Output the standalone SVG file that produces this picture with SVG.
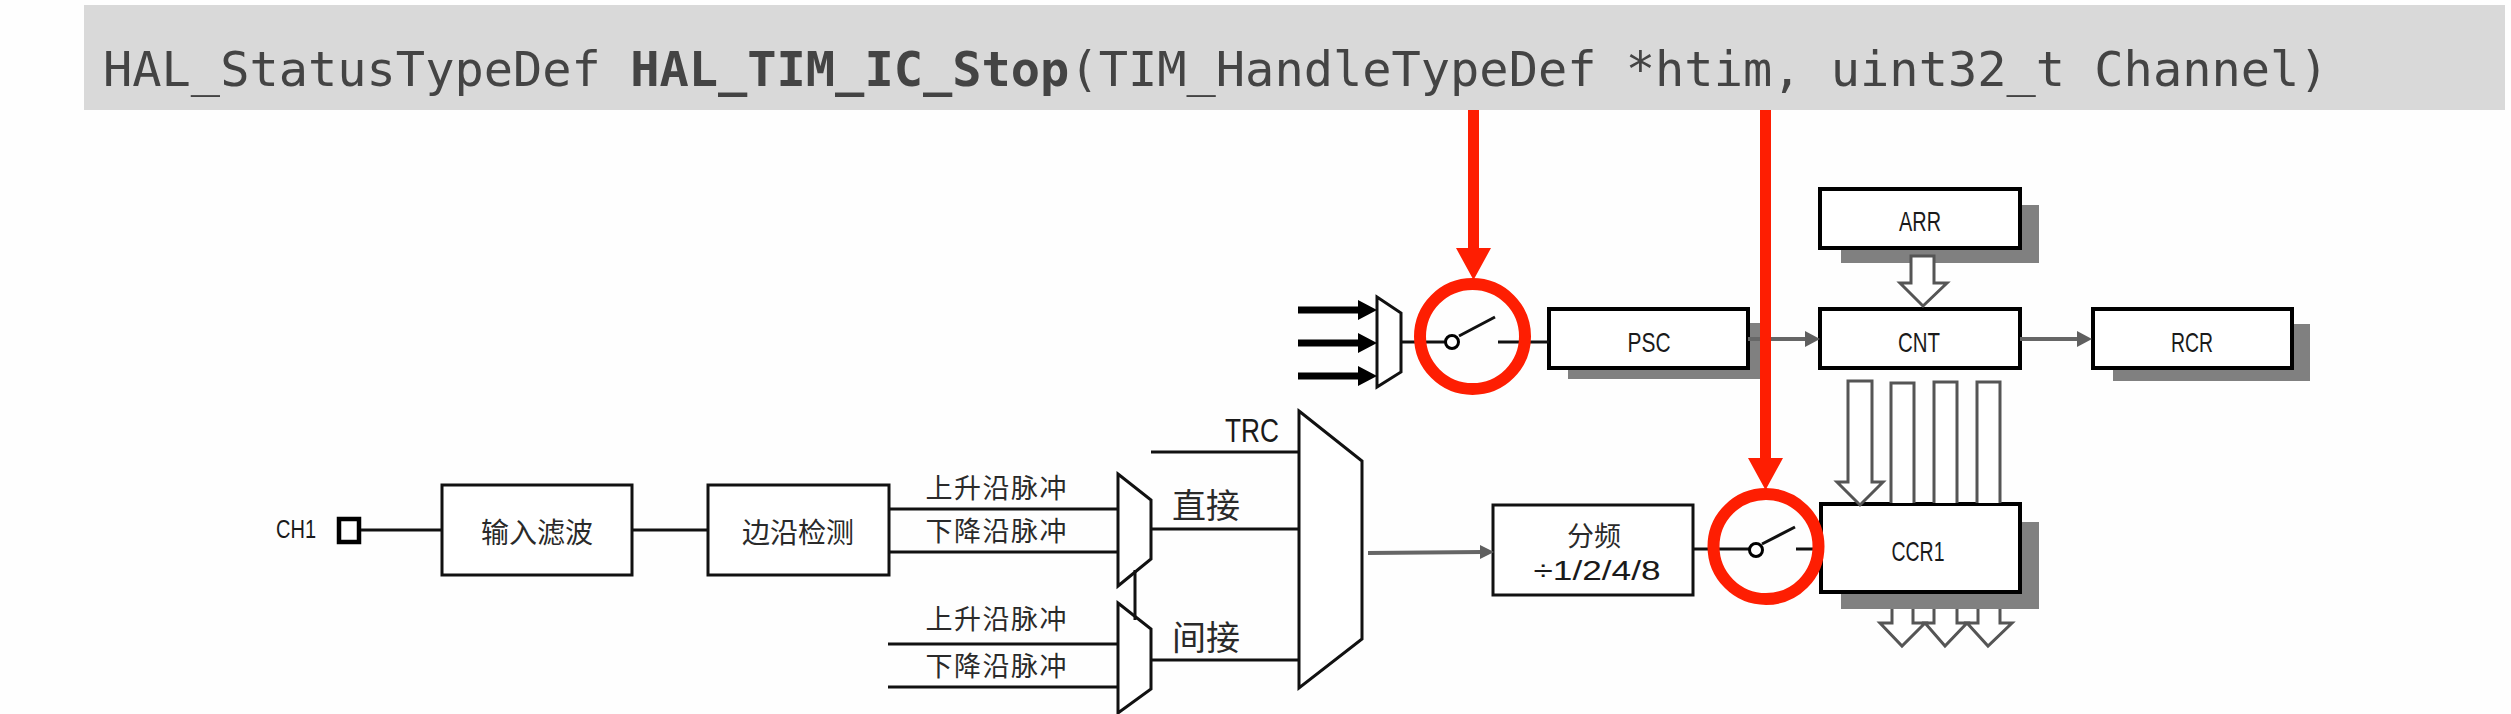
<svg xmlns="http://www.w3.org/2000/svg" width="2511" height="714" viewBox="0 0 2511 714">
<style>
.box{fill:#fff;stroke:#000;stroke-width:4}
.thin{fill:#fff;stroke:#111;stroke-width:3}
.shadow{fill:#808080}
.line{stroke:#111;stroke-width:3;fill:none}
.gline{stroke:#666;stroke-width:4;fill:none}
.ghead{fill:#5f5f5f}
.hollow{fill:#fff;stroke:#555;stroke-width:3}
.red{fill:#fe1e02}
.ring{fill:none;stroke:#fe1e02;stroke-width:12}
.lat{font-family:"Liberation Sans",Arial,sans-serif;font-size:28px;fill:#1a1a1a;text-anchor:middle}
.cjk{font-family:"Noto Sans CJK SC","Noto Sans CJK JP",sans-serif;fill:#2a2a2a;text-anchor:middle;font-size:28px}
.code{font-family:"DejaVu Sans Mono","Liberation Mono",monospace;font-size:48.65px;fill:#444}
</style>
<rect width="2511" height="714" fill="#fefefe"/>
<g id="header">
<rect x="84" y="5" width="2421" height="105" fill="#d9d9d9"/>
<text class="code" x="103" y="86">HAL_StatusTypeDef <tspan font-weight="bold">HAL_TIM_IC_Stop</tspan>(TIM_HandleTypeDef *htim, uint32_t Channel)</text>
</g>
<g id="ch1">
<text class="lat" x="296" y="538" style="font-size:25px" textLength="40" lengthAdjust="spacingAndGlyphs">CH1</text>
<rect x="339" y="519" width="20" height="23" fill="#fff" stroke="#000" stroke-width="4.5"/>
</g>
<g id="filter">
<rect class="thin" x="442" y="485" width="190" height="90"/>
<text class="cjk" x="537" y="543">输入滤波</text>
</g>
<g id="edge">
<rect class="thin" x="708" y="485" width="181" height="90"/>
<text class="cjk" x="798" y="543">边沿检测</text>
</g>
<g id="pulse-labels">
<text class="cjk" x="996" y="498" style="font-size:27px" textLength="141" lengthAdjust="spacing">上升沿脉冲</text>
<text class="cjk" x="996" y="541" style="font-size:27px" textLength="141" lengthAdjust="spacing">下降沿脉冲</text>
<text class="cjk" x="996" y="629" style="font-size:27px" textLength="141" lengthAdjust="spacing">上升沿脉冲</text>
<text class="cjk" x="996" y="676" style="font-size:27px" textLength="141" lengthAdjust="spacing">下降沿脉冲</text>
</g>
<g id="mux-direct"><path class="thin" d="M1118 474L1151 500V559L1118 586Z"/></g>
<g id="mux-indirect"><path class="thin" d="M1118 603L1151 629V689L1118 713Z"/></g>
<g id="mux-main"><path class="thin" d="M1299 411L1362 461V639L1299 688Z"/></g>
<g id="mux-clock"><path class="thin" d="M1377 297L1401 313V372L1377 387Z"/></g>
<g id="mux-labels">
<text class="lat" x="1252" y="442" style="font-size:33px" textLength="54" lengthAdjust="spacingAndGlyphs">TRC</text>
<text class="cjk" x="1206" y="518" style="font-size:34px">直接</text>
<text class="cjk" x="1206" y="650" style="font-size:34px">间接</text>
</g>
<g id="div">
<rect class="thin" x="1493" y="505" width="200" height="90"/>
<text class="cjk" x="1594" y="546" style="font-size:27px">分频</text>
<text class="lat" x="1597" y="580" textLength="127" lengthAdjust="spacingAndGlyphs">÷1/2/4/8</text>
</g>
<g id="psc">
<rect class="shadow" x="1568" y="323" width="200" height="56"/>
<rect class="box" x="1549" y="309" width="199" height="59"/>
<text class="lat" x="1649" y="352" textLength="43" lengthAdjust="spacingAndGlyphs">PSC</text>
</g>
<g id="arr">
<rect class="shadow" x="1841" y="205" width="198" height="58"/>
<rect class="box" x="1820" y="189" width="200" height="59"/>
<text class="lat" x="1920" y="231" textLength="42" lengthAdjust="spacingAndGlyphs">ARR</text>
</g>
<g id="cnt">
<rect class="box" x="1820" y="309" width="200" height="59"/>
<text class="lat" x="1919" y="352" textLength="42" lengthAdjust="spacingAndGlyphs">CNT</text>
</g>
<g id="rcr">
<rect class="shadow" x="2113" y="324" width="197" height="57"/>
<rect class="box" x="2093" y="309" width="199" height="59"/>
<text class="lat" x="2192" y="352" textLength="42" lengthAdjust="spacingAndGlyphs">RCR</text>
</g>
<g id="ccr1">
<rect class="shadow" x="1841" y="522" width="198" height="87"/>
<rect class="box" x="1821" y="504" width="199" height="88"/>
<text class="lat" x="1918" y="561" textLength="53" lengthAdjust="spacingAndGlyphs">CCR1</text>
</g>
<g id="connectors">
<path class="line" d="M361 530H442M632 530H708"/>
<path class="line" d="M888 509H1118M888 552H1118M888 644H1118M888 687H1118"/>
<path class="line" d="M1135 570V620"/>
<path class="line" d="M1151 452H1299M1151 529H1299M1151 660H1299"/>
<path class="line" d="M1401 342H1446M1498 342H1549M1693 549H1750M1796 549H1821"/>
<path class="line" d="M1459 336L1495 317M1762 544L1795 527"/>
<path class="gline" d="M1368 553L1482 552"/>
<path class="ghead" d="M1480 545L1494 552L1480 559Z"/>
<path class="gline" d="M1748 339H1808M2020 339H2080"/>
<path class="ghead" d="M1805 331L1820 339L1805 347ZM2077 331L2092 339L2077 347Z"/>
<path d="M1298 310H1360M1298 343H1360M1298 376H1360" stroke="#000" stroke-width="7" fill="none"/>
<path d="M1358 300L1377 310L1358 320ZM1358 333L1377 343L1358 353ZM1358 366L1377 376L1358 386Z" fill="#000"/>
<path class="hollow" d="M1892 609V623H1880L1902 646L1925 623H1913V609"/>
<path class="hollow" d="M1934 609V623H1925L1945 646L1967 623H1957V609"/>
<path class="hollow" d="M1978 609V623H1967L1988 646L2012 623H2000V609"/>
<path class="hollow" d="M1911 256H1934V283H1947L1923 306L1900 283H1911Z"/>
<path class="hollow" d="M1848 381H1872V482H1883L1860 505L1837 482H1848Z"/>
<path class="hollow" d="M1891 503V383H1914V503"/>
<path class="hollow" d="M1934 503V382H1957V503"/>
<path class="hollow" d="M1977 503V382H2000V503"/>
</g>
<g id="switch-clock"><circle cx="1452" cy="342" r="6.5" fill="#fff" stroke="#000" stroke-width="3"/></g>
<g id="switch-capture"><circle cx="1756" cy="550" r="6.5" fill="#fff" stroke="#000" stroke-width="3"/></g>
<g id="highlights">
<circle class="ring" cx="1472.5" cy="336.5" r="52.5"/>
<circle class="ring" cx="1766" cy="546.5" r="52.5"/>
<path class="red" d="M1468 110H1479V248H1491L1473.5 280L1456 248H1468Z"/>
<path class="red" d="M1760 110H1771V458H1783L1765.5 490L1748 458H1760Z"/>
</g>
</svg>
